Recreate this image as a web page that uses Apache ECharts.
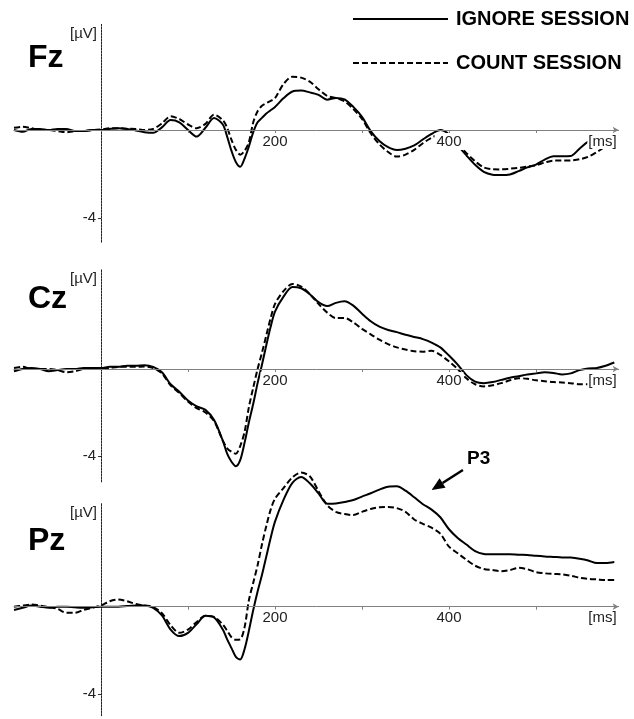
<!DOCTYPE html>
<html><head><meta charset="utf-8">
<script src="https://cdn.jsdelivr.net/npm/echarts@6/dist/echarts.min.js"></script>
<style>html,body{margin:0;padding:0;background:#fff}#c{width:634px;height:719px}</style>
</head><body><div id="c"></div>
<script>
// ---- DATA ----
const times = [-100,-90,-80,-70,-60,-50,-40,-30,-20,-10,0,10,20,30,40,50,60,70,80,90,100,110,120,130,
  140,145,150,155,160,165,170,175,180,185,190,195,200,
  210,220,230,240,250,260,270,280,290,300,310,320,330,340,350,360,370,380,390,400,410,420,430,440,450,460,470,480,490,500,510,520,530,540,550,560,570,580,590];

const fzIgnore = [0.0,-0.08,0.05,0.05,0.0,0.05,0.05,-0.05,-0.05,0.0,0.0,0.05,0.08,0.05,-0.02,-0.1,-0.13,0.12,0.45,0.35,0.0,-0.3,0.1,0.55,
  0.25,-0.3,-0.95,-1.45,-1.67,-1.3,-0.75,-0.1,0.35,0.55,0.75,0.9,1.05,
  1.45,1.75,1.79,1.71,1.6,1.38,1.46,1.39,1.05,0.6,-0.05,-0.5,-0.78,-0.91,-0.85,-0.7,-0.43,-0.18,0.0,-0.2,-0.7,-1.15,-1.58,-1.9,-2.03,-2.05,-2.02,-1.87,-1.7,-1.57,-1.35,-1.19,-1.19,-1.18,-0.85,-0.53,-0.4,-0.25,-0.1];
const fzCount = [0.1,0.15,0.08,0.0,0.0,-0.05,-0.1,-0.05,-0.05,0.0,0.02,0.08,0.08,0.06,0.05,0.0,0.05,0.3,0.62,0.5,0.25,0.08,0.28,0.7,
  0.45,0.1,-0.45,-0.9,-1.12,-0.95,-0.55,0.35,0.85,1.1,1.22,1.32,1.45,
  2.1,2.42,2.38,2.2,1.85,1.55,1.45,1.3,0.95,0.5,-0.15,-0.65,-1.0,-1.21,-1.12,-0.9,-0.6,-0.35,-0.2,-0.35,-0.65,-1.05,-1.42,-1.7,-1.78,-1.79,-1.76,-1.72,-1.66,-1.6,-1.48,-1.39,-1.39,-1.38,-1.33,-1.22,-1.0,-0.75,-0.55];

const czIgnore = [-0.1,0.0,0.05,0.0,-0.1,-0.05,0.0,0.0,0.05,0.05,0.05,0.1,0.1,0.15,0.15,0.18,0.1,-0.15,-0.7,-1.05,-1.45,-1.72,-1.88,-2.35,
  -3.3,-3.9,-4.27,-4.48,-4.2,-3.4,-2.45,-1.6,-0.65,0.2,1.1,1.95,2.65,
  3.35,3.78,3.72,3.45,3.08,2.9,3.05,3.12,2.92,2.55,2.2,1.95,1.8,1.7,1.58,1.48,1.38,1.22,1.0,0.62,0.2,-0.28,-0.58,-0.65,-0.6,-0.5,-0.4,-0.33,-0.25,-0.2,-0.15,-0.18,-0.25,-0.2,-0.05,0.03,0.05,0.15,0.3];
const czCount = [0.05,0.1,0.0,0.0,0.0,-0.05,-0.15,-0.1,0.0,0.05,0.0,0.05,0.1,0.1,0.1,0.12,0.05,-0.2,-0.75,-1.1,-1.5,-1.8,-2.0,-2.4,
  -3.3,-3.65,-3.81,-3.9,-3.55,-2.9,-1.75,-0.85,0.0,0.75,1.55,2.35,3.0,
  3.6,3.92,3.8,3.45,3.0,2.6,2.35,2.35,2.15,1.85,1.6,1.35,1.15,1.0,0.9,0.82,0.8,0.84,0.65,0.35,0.0,-0.43,-0.7,-0.8,-0.75,-0.65,-0.52,-0.42,-0.45,-0.52,-0.56,-0.6,-0.62,-0.65,-0.7,-0.7,-0.7,-0.7,-0.7];

const pzIgnore = [-0.15,-0.05,0.05,0.0,-0.05,0.0,0.0,-0.03,-0.05,-0.03,0.0,0.0,0.0,0.03,0.05,0.05,-0.05,-0.4,-1.05,-1.35,-1.2,-0.8,-0.42,-0.5,
  -1.05,-1.5,-1.9,-2.3,-2.42,-1.95,-1.1,-0.15,0.7,1.45,2.3,3.15,3.9,
  4.92,5.68,5.95,5.66,5.2,4.72,4.73,4.8,4.89,5.05,5.2,5.37,5.5,5.52,5.32,5.02,4.7,4.45,4.1,3.55,3.15,2.85,2.55,2.42,2.4,2.4,2.4,2.38,2.37,2.33,2.3,2.28,2.26,2.25,2.2,2.12,2.0,2.0,2.05];
const pzCount = [0.0,0.05,0.1,0.05,-0.02,-0.1,-0.28,-0.28,-0.15,-0.05,0.05,0.25,0.33,0.25,0.12,0.05,-0.02,-0.3,-0.85,-1.2,-1.05,-0.7,-0.42,-0.47,
  -0.82,-1.1,-1.4,-1.52,-1.5,-0.95,0.3,1.1,1.9,2.85,3.7,4.45,4.95,
  5.45,5.93,6.15,5.98,5.3,4.65,4.35,4.25,4.2,4.35,4.48,4.56,4.57,4.52,4.35,4.0,3.8,3.62,3.35,2.75,2.45,2.15,1.88,1.73,1.68,1.62,1.68,1.78,1.72,1.58,1.53,1.5,1.48,1.42,1.33,1.28,1.25,1.22,1.22];

const channels = ['Fz','Cz','Pz'];
const seriesNames = ['IGNORE SESSION','COUNT SESSION'];
const xTickValues = [100,200,300,400,500];
const xLabelValues = [200,400];
const yLabelValues = [-4];

// ---- LAYOUT / STYLE ----
const FONT = '"Liberation Sans", Arial, Helvetica, sans-serif';
const X_MIN = -100, X_MAX = 595;
const GRID_LEFT = 14, GRID_RIGHT = 15.35, CHART_W = 634;
const layout = [
  {ign: fzIgnore, cnt: fzCount, yMin: -5.1, yMax: 4.8, top: 24.4, height: 217.8, titleTop: 42},
  {ign: czIgnore, cnt: czCount, yMin: -5.2, yMax: 4.6, top: 269.2, height: 212.7, titleTop: 283},
  {ign: pzIgnore, cnt: pzCount, yMin: -5.0, yMax: 4.75, top: 503.1, height: 212.6, titleTop: 525}
];
const p3Arrow = [[416, 6.27], [380, 5.35]];

function pairs(vals){ return times.map((t,i)=>[t, vals[i]]); }

const gridW = CHART_W - GRID_LEFT - GRID_RIGHT;
const yAxisShift = -gridW * (0 - X_MIN) / (X_MAX - X_MIN);

const grids = [], xAxes = [], yAxes = [], series = [], graphics = [];
layout.forEach((p, i) => {
  grids.push({left: GRID_LEFT, right: GRID_RIGHT, top: p.top, height: p.height,
              containLabel: false, outerBoundsMode: 'none'});
  const xAxisShift = -p.height * (0 - p.yMin) / (p.yMax - p.yMin);
  xAxes.push({
    type: 'value', gridIndex: i, min: X_MIN, max: X_MAX, z: 3, position: 'bottom', offset: xAxisShift,
    axisLine: {onZero: false, lineStyle: {color: '#808080', width: 1}, symbol: ['none','arrow'], symbolSize: [5,6]},
    axisTick: {show: true, customValues: xTickValues, length: 3, lineStyle: {color: '#808080'}},
    axisLabel: {customValues: xLabelValues, margin: 3, fontSize: 15, color: '#222', fontFamily: FONT,
                backgroundColor: '#fff', padding: [1,2,1,2]},
    splitLine: {show: false},
    name: '[ms]', nameLocation: 'end', nameGap: -1,
    nameTextStyle: {align: 'right', verticalAlign: 'top', padding: [4,1,0,1], fontSize: 15, color: '#222',
                    fontFamily: FONT, backgroundColor: '#fff'}
  });
  yAxes.push({
    type: 'value', gridIndex: i, min: p.yMin, max: p.yMax, position: 'left', offset: yAxisShift,
    axisLine: {onZero: false, lineStyle: {color: '#222', width: 1, type: [2,1]}},
    axisTick: {show: true, customValues: yLabelValues, length: 3, lineStyle: {color: '#333'}},
    axisLabel: {customValues: yLabelValues, margin: 5, fontSize: 15, color: '#222', fontFamily: FONT},
    splitLine: {show: false},
    name: '[\u00b5V]', nameLocation: 'end', nameGap: -2,
    nameTextStyle: {align: 'right', verticalAlign: 'top', padding: [0,4,0,0], fontSize: 15, color: '#222', fontFamily: FONT}
  });
  const base = {type: 'line', xAxisIndex: i, yAxisIndex: i, symbol: 'none', showSymbol: false,
                smooth: 0.3, clip: false, z: 2, itemStyle: {color: '#000'}};
  series.push(Object.assign({}, base, {name: seriesNames[0], data: pairs(p.ign),
                lineStyle: {color: '#000', width: 2}}));
  series.push(Object.assign({}, base, {name: seriesNames[1], data: pairs(p.cnt),
                lineStyle: {color: '#000', width: 2, type: [6,3]}}));
  graphics.push({id: 'title' + i, type: 'text', left: 28, top: p.titleTop,
    style: {text: channels[i], fontSize: 32, fontWeight: 'bold', fontFamily: FONT, fill: '#000'}});
});
graphics.push({id: 'p3', type: 'text', left: 467, top: 449,
  style: {text: 'P3', fontSize: 19, fontWeight: 'bold', fontFamily: FONT, fill: '#000'}});

const legendBase = {left: 352, padding: 0, itemWidth: 95, itemHeight: 3, selectedMode: false,
  itemStyle: {color: '#000', opacity: 0},
  lineStyle: {width: 2},
  textStyle: {fontSize: 20, fontWeight: 'bold', color: '#000', fontFamily: FONT, padding: [0,0,0,3]}};

const chart = echarts.init(document.getElementById('c'), null, {renderer: 'canvas'});
chart.setOption({
  animation: false,
  backgroundColor: '#fff',
  grid: grids, xAxis: xAxes, yAxis: yAxes, series: series,
  legend: [
    Object.assign({}, legendBase, {top: 9, data: [seriesNames[0]]}),
    Object.assign({}, legendBase, {top: 53, data: [seriesNames[1]]})
  ],
  graphic: graphics
});

// P3 arrow annotation, positioned through the Pz axes' scales
const a0 = chart.convertToPixel({xAxisIndex: 2, yAxisIndex: 2}, p3Arrow[0]);
const a1 = chart.convertToPixel({xAxisIndex: 2, yAxisIndex: 2}, p3Arrow[1]);
const dx = a1[0] - a0[0], dy = a1[1] - a0[1], len = Math.hypot(dx, dy);
const ux = dx / len, uy = dy / len, headL = 13, headW = 5.5;
const bx = a1[0] - ux * headL, by = a1[1] - uy * headL;
graphics.push({id: 'arrowLine', type: 'line', shape: {x1: a0[0], y1: a0[1], x2: bx, y2: by},
  style: {stroke: '#000', lineWidth: 2.5}, z: 10});
graphics.push({id: 'arrowHead', type: 'polygon', shape: {points: [[a1[0], a1[1]],
  [bx - uy * headW, by + ux * headW], [bx + uy * headW, by - ux * headW]]},
  style: {fill: '#000'}, z: 10});
chart.setOption({graphic: graphics});
</script></body></html>
